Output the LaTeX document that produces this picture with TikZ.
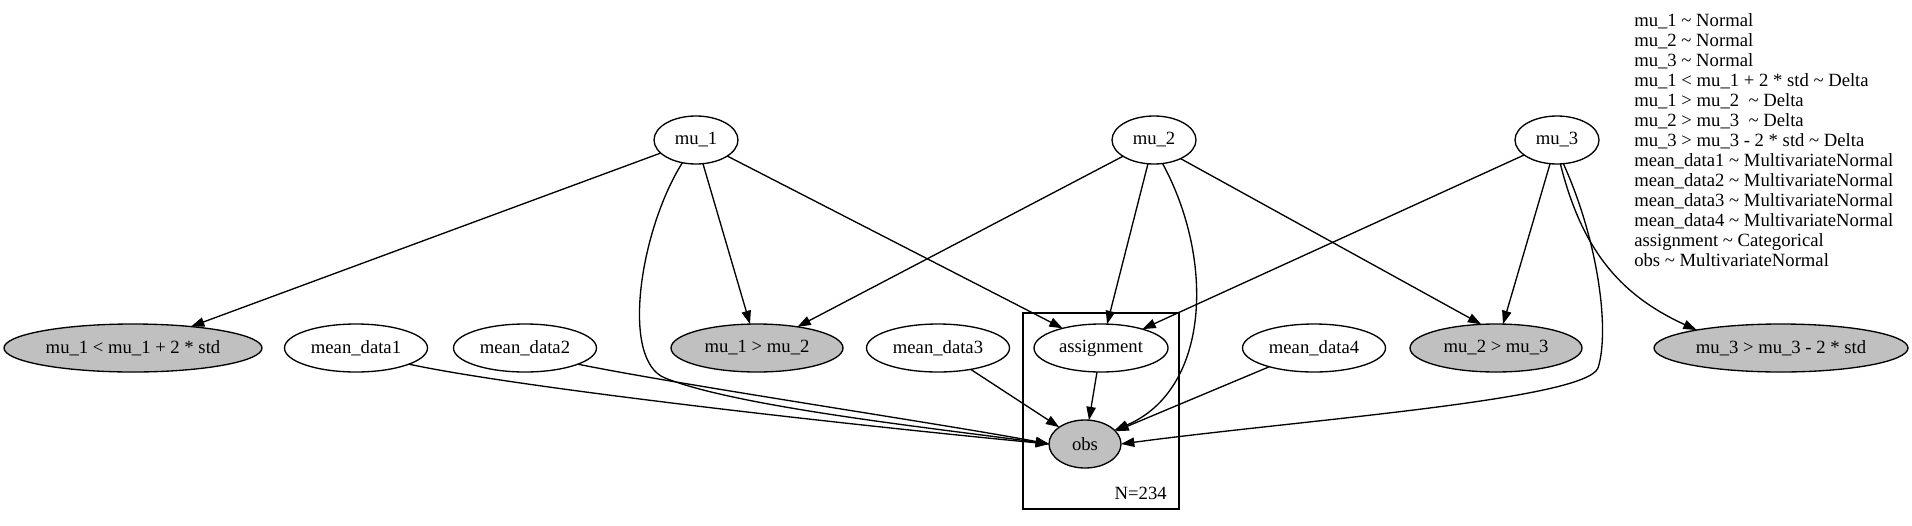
\documentclass[tikz,border=0pt]{standalone}
\usepackage{fontspec}
\setmainfont{Liberation Serif}
\usetikzlibrary{shapes.geometric,arrows.meta}
\definecolor{obsgray}{RGB}{192,192,192}
\begin{document}
\begin{tikzpicture}[x=0.75pt,y=-0.75pt,
  font=\fontsize{14pt}{16pt}\selectfont,
  rv/.style={ellipse,draw,line width=1pt,inner sep=0pt,outer sep=0pt,minimum height=36pt},
  obsv/.style={rv,fill=obsgray},
  edge/.style={line width=1pt,-{Triangle[length=10pt,width=7pt]}},
  platebox/.style={draw,rectangle,line width=0.85pt,inner sep=0pt,outer sep=0pt}]
\useasboundingbox[fill=white] (0,0) rectangle (1912,525);
% plate
\node[platebox,minimum width=117pt,minimum height=147pt] (plate) at (1101,411) {};
\node[anchor=base east,inner sep=0pt] (plabel) at (1167,499) {N=234};
% nodes
\node[rv,minimum width=63pt] (mu1) at (696,140) {mu\_1};
\node[rv,minimum width=63pt] (mu2) at (1154,140) {mu\_2};
\node[rv,minimum width=63pt] (mu3) at (1557,140) {mu\_3};
\node[obsv,minimum width=193.5pt] (lt1) at (133,348) {mu\_1 < mu\_1 + 2 * std};
\node[rv,minimum width=107.25pt] (md1) at (356,348) {mean\_data1};
\node[rv,minimum width=107.25pt] (md2) at (525,348) {mean\_data2};
\node[obsv,minimum width=129pt] (g12) at (757,348) {mu\_1 > mu\_2};
\node[rv,minimum width=107.25pt] (md3) at (938,348) {mean\_data3};
\node[rv,minimum width=100.5pt] (asg) at (1101,348) {assignment};
\node[rv,minimum width=107.25pt] (md4) at (1314,348) {mean\_data4};
\node[obsv,minimum width=129pt] (g23) at (1496,348) {mu\_2 > mu\_3};
\node[obsv,minimum width=190.5pt] (g3) at (1781,348) {mu\_3 > mu\_3 - 2 * std};
\node[obsv,minimum width=54pt] (obs) at (1085,444) {obs};
% legend
\node[anchor=north west,align=left,inner sep=0pt,font=\fontsize{14pt}{15pt}\selectfont] (legend) at (1634,13) {%
mu\_1 \textasciitilde{} Normal\\
mu\_2 \textasciitilde{} Normal\\
mu\_3 \textasciitilde{} Normal\\
mu\_1 < mu\_1 + 2 * std \textasciitilde{} Delta\\
mu\_1 > mu\_2\ \ \textasciitilde{} Delta\\
mu\_2 > mu\_3\ \ \textasciitilde{} Delta\\
mu\_3 > mu\_3 - 2 * std \textasciitilde{} Delta\\
mean\_data1 \textasciitilde{} MultivariateNormal\\
mean\_data2 \textasciitilde{} MultivariateNormal\\
mean\_data3 \textasciitilde{} MultivariateNormal\\
mean\_data4 \textasciitilde{} MultivariateNormal\\
assignment \textasciitilde{} Categorical\\
obs \textasciitilde{} MultivariateNormal};
% edges from mu_1
\draw[edge] (mu1) -- (lt1);
\draw[edge] (mu1) -- (g12);
\draw[edge] (mu1) -- (asg);
\draw[edge] (mu1.-121) .. controls (640,230) and (620,360) .. (665,378) .. controls (740,408) and (950,430) .. (obs.west);
% edges from mu_2
\draw[edge] (mu2) -- (g12);
\draw[edge] (mu2) -- (asg);
\draw[edge] (mu2.-70) .. controls (1215,260) and (1210,390) .. (obs.25);
\draw[edge] (mu2.-35) -- (g23.122);
% edges from mu_3
\draw[edge] (mu3) -- (asg);
\draw[edge] (mu3) -- (g23);
\draw[edge] (mu3.-82) .. controls (1582,250) and (1620,295) .. (g3.168);
\draw[edge] (mu3.-75) .. controls (1598,240) and (1610,330) .. (1598,368) .. controls (1585,400) and (1300,420) .. (obs.east);
% edges from data
\draw[edge] (md1.-17) .. controls (520,388) and (850,425) .. (obs.west);
\draw[edge] (md2.-17) .. controls (680,385) and (950,425) .. (obs.west);
\draw[edge] (md3) -- (obs);
\draw[edge] (md4) -- (obs);
\draw[edge] (asg) -- (obs);
\end{tikzpicture}
\end{document}
